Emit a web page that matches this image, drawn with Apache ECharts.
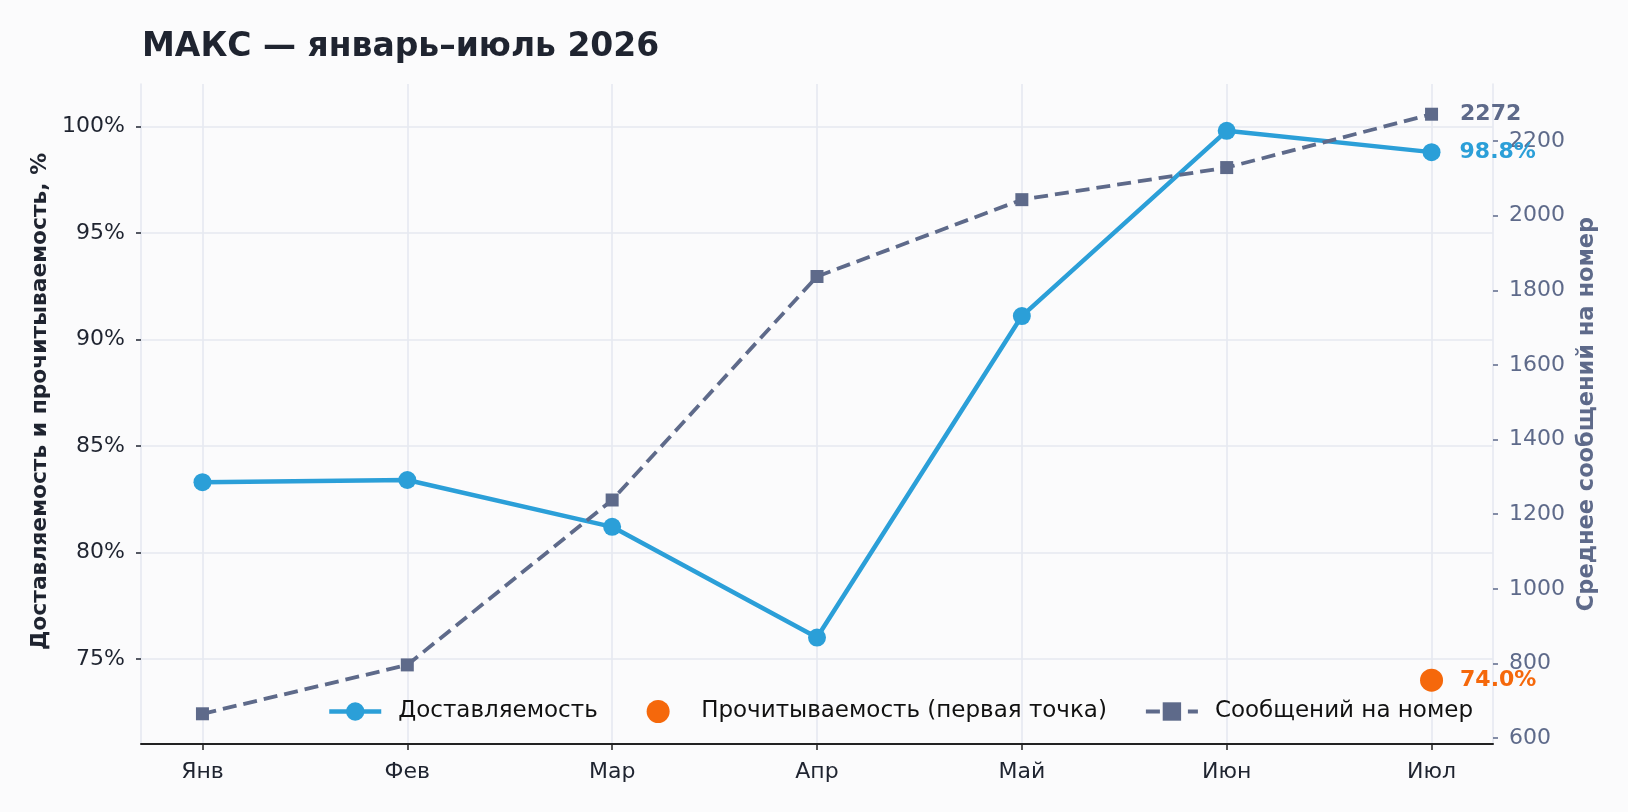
<!DOCTYPE html>
<html>
<head>
<meta charset="utf-8">
<script src="https://cdn.jsdelivr.net/npm/echarts@6/dist/echarts.min.js"></script>
<style>
html, body { margin: 0; padding: 0; background: #fbfbfc; }
#chart { width: 1628px; height: 812px; }
</style>
</head>
<body>
<div id="chart"></div>
<script>
var months = ['Янв', 'Фев', 'Мар', 'Апр', 'Май', 'Июн', 'Июл'];
var delivery = [83.3, 83.4, 81.2, 76.0, 91.1, 99.8, 98.8];
var readRate = [null, null, null, null, null, null, 74.0];
var msgsPerNumber = [665, 796, 1238, 1837, 2043, 2129, 2272];
var pctTicks = [75, 80, 85, 90, 95, 100];
var msgTicks = [600, 800, 1000, 1200, 1400, 1600, 1800, 2000, 2200];
var monthIdx = [0, 1, 2, 3, 4, 5, 6];

var BLUE = '#2b9fd8', ORANGE = '#f5680b', SLATE = '#5e6a8a', INK = '#1f2430', GRID = '#e6e9f0';
var FONT = 'DejaVu Sans';

var lastLabel = function(color, dist, fmt) {
	return {
		show: true, position: 'right', distance: dist,
		color: color, fontFamily: FONT, fontWeight: 'bold', fontSize: 22,
		formatter: fmt
	};
};

var pointsOf = function(arr, labelOpt) {
	var out = [];
	arr.forEach(function(v, i) {
		if (v === null) return;
		var item = { value: [i, v] };
		if (i === arr.length - 1) item.label = labelOpt;
		out.push(item);
	});
	return out;
};

var legendText = { fontFamily: FONT, fontSize: 23, color: '#111', padding: [0, 0, 0, 12] };

var option = {
	backgroundColor: '#fbfbfc',
	animation: false,
	textStyle: { fontFamily: FONT },
	title: {
		text: 'МАКС — январь–июль 2026',
		left: 137, top: 26,
		textStyle: { fontFamily: FONT, fontSize: 33, fontWeight: 'bold', color: INK }
	},
	grid: { left: 141, right: 135, top: 84, bottom: 68 },
	// two legend blocks so the first item keeps the wider gap of the original
	legend: [{
		left: 327, top: 700,
		padding: 0,
		itemWidth: 52, itemHeight: 23,
		textStyle: legendText,
		data: [{ name: 'Доставляемость', lineStyle: { width: 4.5 } }]
	}, {
		right: 155, top: 700,
		padding: 0,
		itemGap: 37,
		itemWidth: 52, itemHeight: 23,
		textStyle: legendText,
		data: [
			{ name: 'Прочитываемость (первая точка)' },
			{ name: 'Сообщений на номер', lineStyle: { width: 4 } }
		]
	}],
	xAxis: {
		type: 'value', min: -0.3, max: 6.3,
		axisLine: { show: true, onZero: false, lineStyle: { color: '#222', width: 2 } },
		axisTick: { show: true, length: 6, lineStyle: { color: '#222', width: 1.5 }, customValues: monthIdx },
		axisLabel: {
			customValues: monthIdx, margin: 17,
			fontFamily: FONT, fontSize: 22, color: INK,
			formatter: function(v) { return months[Math.round(v)]; }
		},
		splitLine: { show: true, lineStyle: { color: GRID, width: 1.6 } }
	},
	yAxis: [{
		type: 'value', min: 71, max: 102, position: 'left',
		name: 'Доставляемость и прочитываемость, %',
		nameLocation: 'middle', nameGap: 88, nameRotate: 90,
		nameTextStyle: { fontFamily: FONT, fontSize: 21.8, fontWeight: 'bold', color: INK, padding: [0, 0, 0, 25] },
		axisLine: { show: true, onZero: false, lineStyle: { color: GRID, width: 1.6 } },
		axisTick: { show: true, length: 5, lineStyle: { color: INK, width: 1.5 }, customValues: pctTicks },
		axisLabel: {
			customValues: pctTicks, margin: 16,
			fontFamily: FONT, fontSize: 22, color: INK,
			formatter: '{value}%'
		},
		splitLine: { show: true, lineStyle: { color: GRID, width: 1.6 } }
	}, {
		type: 'value', min: 584, max: 2353, position: 'right',
		name: 'Среднее сообщений на номер',
		nameLocation: 'middle', nameGap: 81, nameRotate: 90,
		nameTextStyle: { fontFamily: FONT, fontSize: 22.5, fontWeight: 'bold', color: SLATE },
		axisLine: { show: true, onZero: false, lineStyle: { color: GRID, width: 1.6 } },
		axisTick: { show: true, length: 5, lineStyle: { color: SLATE, width: 1.5 }, customValues: msgTicks },
		axisLabel: {
			customValues: msgTicks, margin: 16,
			fontFamily: FONT, fontSize: 22, color: SLATE,
			formatter: function(v) { return String(v); }
		},
		splitLine: { show: false }
	}],
	series: [{
		name: 'Доставляемость',
		type: 'line',
		yAxisIndex: 0,
		z: 2,
		symbol: 'circle', symbolSize: 18,
		itemStyle: { color: BLUE },
		lineStyle: { color: BLUE, width: 4.5 },
		data: pointsOf(delivery, lastLabel(BLUE, 19, function(p) { return p.value[1].toFixed(1) + '%'; }))
	}, {
		name: 'Прочитываемость (первая точка)',
		type: 'scatter',
		yAxisIndex: 0,
		z: 3,
		symbol: 'circle', symbolSize: 23,
		itemStyle: { color: ORANGE, opacity: 1 },
		data: pointsOf(readRate, lastLabel(ORANGE, 17, function(p) { return p.value[1].toFixed(1) + '%'; }))
	}, {
		name: 'Сообщений на номер',
		type: 'line',
		yAxisIndex: 1,
		z: 4,
		symbol: 'rect', symbolSize: 13,
		itemStyle: { color: SLATE },
		lineStyle: { color: SLATE, width: 3.8, type: [14, 7] },
		data: pointsOf(msgsPerNumber, lastLabel(SLATE, 22, function(p) { return String(p.value[1]); }))
	}]
};

var chart = echarts.init(document.getElementById('chart'));
chart.setOption(option);
</script>
</body>
</html>
